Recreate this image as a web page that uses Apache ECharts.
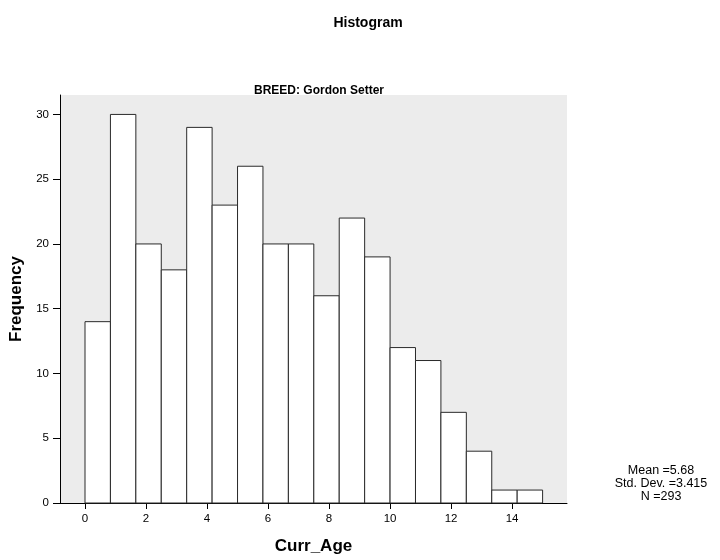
<!DOCTYPE html>
<html><head><meta charset="utf-8">
<script src="https://cdn.jsdelivr.net/npm/echarts@6/dist/echarts.min.js"></script>
<style>html,body{margin:0;padding:0;background:#fff}#c{width:720px;height:560px}</style>
</head><body><div id="c"></div>
<script>
const counts = [14, 30, 20, 18, 29, 23, 26, 20, 20, 16, 22, 19, 12, 11, 7, 4, 1, 1];
const binStart = 0;
const binEnd = 15;
const xTicks = [0, 2, 4, 6, 8, 10, 12, 14];
const yTicks = [0, 5, 10, 15, 20, 25, 30];
const statsLines = ['Mean =5.68', 'Std. Dev. =3.415', 'N =293'];

const binW = (binEnd - binStart) / counts.length;
const data = counts.map((c, i) => [binStart + i * binW, binStart + (i + 1) * binW, c]);
const FONT = 'Liberation Sans, Arial, sans-serif';

const chart = echarts.init(document.getElementById('c'), null, {renderer: 'canvas'});
chart.setOption({
  animation: false,
  backgroundColor: '#ffffff',
  title: [
    {text: 'Histogram', left: 363, top: 11, textAlign: 'center',
     textStyle: {fontFamily: FONT, fontSize: 14, fontWeight: 'bold', color: '#000'}},
    {text: 'BREED: Gordon Setter', left: 314, top: 80, textAlign: 'center',
     textStyle: {fontFamily: FONT, fontSize: 12, fontWeight: 'bold', color: '#000'}}
  ],
  graphic: statsLines.map((t, i) => ({
    type: 'text', x: 661, y: 471 + i * 13,
    style: {text: t, fontFamily: FONT, fontSize: 12.5, fill: '#000',
            align: 'center', verticalAlign: 'middle'}
  })),
  grid: {left: 60, top: 95, right: 153, bottom: 56, show: true, backgroundColor: '#ececec', borderWidth: 0},
  xAxis: {
    type: 'value', min: -0.82, max: 15.8,
    name: 'Curr_Age', nameLocation: 'middle', nameGap: 35,
    nameTextStyle: {fontFamily: FONT, fontSize: 17, fontWeight: 'bold', color: '#000'},
    axisLine: {show: true, onZero: false, lineStyle: {color: '#000', width: 1}},
    axisTick: {show: true, customValues: xTicks, length: 6, lineStyle: {color: '#000'}},
    axisLabel: {customValues: xTicks, fontFamily: FONT, fontSize: 11.5, color: '#000', margin: 10},
    splitLine: {show: false}
  },
  yAxis: {
    type: 'value', min: 0, max: 31.5,
    name: 'Frequency', nameLocation: 'middle', nameGap: 33, nameRotate: 90,
    nameTextStyle: {fontFamily: FONT, fontSize: 17, fontWeight: 'bold', color: '#000'},
    axisLine: {show: true, onZero: false, lineStyle: {color: '#000', width: 1}},
    axisTick: {show: true, customValues: yTicks, length: 7, lineStyle: {color: '#000'}},
    axisLabel: {customValues: yTicks, fontFamily: FONT, fontSize: 11.5, color: '#000', margin: 11},
    splitLine: {show: false}
  },
  series: [{
    type: 'custom',
    data: data,
    encode: {x: [0, 1], y: 2},
    renderItem: function (params, api) {
      const p0 = api.coord([api.value(0), 0]);
      const p1 = api.coord([api.value(1), api.value(2)]);
      return {
        type: 'rect',
        shape: {x: p0[0], y: p1[1], width: p1[0] - p0[0], height: p0[1] - p1[1]},
        style: {fill: '#ffffff', stroke: '#2a2a2a', lineWidth: 1}
      };
    }
  }]
});
</script></body></html>
